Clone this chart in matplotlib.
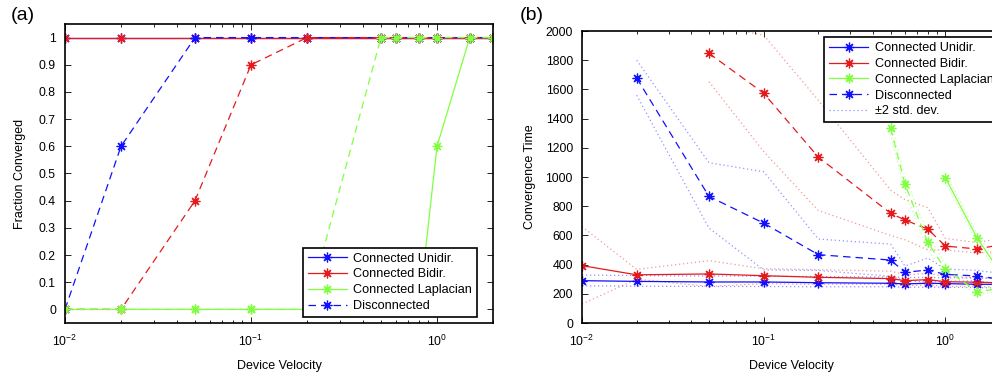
import numpy as np
import matplotlib
matplotlib.use("Agg")
import matplotlib.pyplot as plt
from matplotlib.lines import Line2D

plt.rcParams["font.family"] = ["Liberation Sans", "DejaVu Sans"]
plt.rcParams["mathtext.fontset"] = "custom"
plt.rcParams["mathtext.rm"] = "Liberation Sans"

NAN = np.nan
velocity = [0.01, 0.02, 0.05, 0.1, 0.2, 0.5, 0.6, 0.8, 1.0, 1.5, 2.0]

# (a) fraction converged
frac_conn_uni = [1, 1, 1, 1, 1, 1, 1, 1, 1, 1, 1]
frac_conn_bi = [1, 1, 1, 1, 1, 1, 1, 1, 1, 1, 1]
frac_conn_lap = [0, 0, 0, 0, 0, 0, 0, 0, 0.6, 1, 1]
frac_disc_uni = [0, 0.6, 1, 1, 1, 1, 1, 1, 1, 1, 1]
frac_disc_bi = [0, 0, 0.4, 0.9, 1, 1, 1, 1, 1, 1, 1]
frac_disc_lap = [0, 0, 0, 0, 0, 1, 1, 1, 1, 1, 1]

# (b) convergence time: mean, upper (+2sd), lower (-2sd)
time_conn_uni = [290, 285, 281, 281, 276, 272, 268, 272, 270, 265, 265]
time_conn_uni_hi = [328, 325, 322, 320, 318, 315, 312, 312, 310, 308, 305]
time_conn_uni_lo = [255, 252, 250, 250, 248, 248, 245, 245, 245, 242, 240]

time_conn_bi = [393, 330, 336, 324, 313, 304, 290, 297, 283, 279, 276]
time_conn_bi_hi = [660, 367, 427, 372, 365, 355, 330, 340, 320, 310, 305]
time_conn_bi_lo = [130, 300, 250, 270, 265, 265, 255, 260, 250, 250, 245]

time_conn_lap = [NAN, NAN, NAN, NAN, NAN, NAN, NAN, NAN, 995, 580, 350]
time_conn_lap_hi = [NAN, NAN, NAN, NAN, NAN, NAN, NAN, NAN, 1025, 610, 380]
time_conn_lap_lo = [NAN, NAN, NAN, NAN, NAN, NAN, NAN, NAN, 965, 550, 320]

time_disc_uni = [NAN, 1678, 867, 684, 468, 431, 347, 363, 333, 322, 300]
time_disc_uni_hi = [NAN, 1800, 1098, 1036, 575, 540, 390, 445, 370, 360, 340]
time_disc_uni_lo = [NAN, 1560, 650, 364, 360, 320, 290, 280, 285, 290, 265]

time_disc_bi = [NAN, NAN, 1847, 1574, 1136, 751, 705, 644, 527, 507, 535]
time_disc_bi_hi = [NAN, NAN, 2045, 1972, 1525, 910, 845, 790, 580, 550, 580]
time_disc_bi_lo = [NAN, NAN, 1653, 1175, 770, 600, 570, 500, 500, 480, 490]

time_disc_lap = [NAN, NAN, NAN, NAN, NAN, 1334, 950, 553, 368, 215, 235]
time_disc_lap_hi = [NAN, NAN, NAN, NAN, NAN, 1375, 1000, 610, 405, 240, 260]
time_disc_lap_lo = [NAN, NAN, NAN, NAN, NAN, 1295, 900, 500, 330, 195, 215]

BLUE = "#1010ff"
RED = "#e41a1c"
GREEN = "#80ff40"
STAR = (8, 2, 0)
DASH = (0, (6, 4))
DOT = (0, (1, 2.2))
FS = 8.8
LEG_FS = 9.1


def style_axes(ax):
    ax.set_xscale("log")
    ax.set_xlim(0.01, 2)
    ax.tick_params(which="both", direction="in", top=True, right=True,
                   labelsize=FS, width=0.6)
    ax.tick_params(which="major", length=4)
    ax.tick_params(which="minor", length=2.2)
    ax.tick_params(axis="x", which="both", pad=8)
    ax.tick_params(axis="y", which="both", pad=6.5)
    ax.set_xticks([0.01, 0.1, 1])
    ax.set_xticklabels([r"$10^{-2}$", r"$10^{-1}$", r"$10^{0}$"])
    for s in ax.spines.values():
        s.set_linewidth(1.2)
    ax.set_xlabel("Device Velocity", fontsize=9, labelpad=8)


def mline(ax, y, color, ls, lw=0.9, alpha=1.0, label=None):
    ax.plot(velocity, y, color=color, linestyle=ls, lw=lw, alpha=alpha,
            marker=STAR, ms=7, mew=0.9, label=label)


fig = plt.figure(figsize=(9.92, 3.76), dpi=100)

# ---- (a)
ax1 = fig.add_axes([65 / 992, 53 / 376, 428 / 992, 299 / 376])
mline(ax1, frac_conn_uni, BLUE, "-", label="Connected Unidir.")
mline(ax1, frac_conn_bi, RED, "-", label="Connected Bidir.")
mline(ax1, frac_conn_lap, GREEN, "-", label="Connected Laplacian")
mline(ax1, frac_disc_uni, BLUE, DASH, label="Disconnected")
mline(ax1, frac_disc_bi, RED, DASH)
mline(ax1, frac_disc_lap, GREEN, DASH)
style_axes(ax1)
ax1.set_ylim(-0.05, 1.05)
ax1.set_yticks(np.arange(0, 1.01, 0.1))
ax1.set_yticklabels(["0"] + [f"{v:.1f}" for v in np.arange(0.1, 0.95, 0.1)] + ["1"])
ax1.set_ylabel("Fraction Converged", fontsize=9, labelpad=9)
h, l = ax1.get_legend_handles_labels()
leg1 = ax1.legend(h[:4], l[:4], loc="lower right", bbox_to_anchor=(0.963, 0.02),
                  borderaxespad=0, fontsize=LEG_FS, fancybox=False, framealpha=1,
                  edgecolor="black", handlelength=3.1, handletextpad=0.5,
                  labelspacing=0.3, borderpad=0.4, numpoints=1)
leg1.get_frame().set_linewidth(1.2)
fig.text(11 / 992, 1 - 16 / 376, "(a)", fontsize=14, va="center", ha="left")

# ---- (b)
ax2 = fig.add_axes([582 / 992, 53 / 376, 418 / 992, 292 / 376])
bands = [(time_conn_uni_hi, time_conn_uni_lo, BLUE),
         (time_conn_bi_hi, time_conn_bi_lo, RED),
         (time_conn_lap_hi, time_conn_lap_lo, GREEN),
         (time_disc_uni_hi, time_disc_uni_lo, BLUE),
         (time_disc_bi_hi, time_disc_bi_lo, RED),
         (time_disc_lap_hi, time_disc_lap_lo, GREEN)]
for hi, lo, c in bands:
    ax2.plot(velocity, hi, color=c, linestyle=DOT, lw=0.9, alpha=0.45)
    ax2.plot(velocity, lo, color=c, linestyle=DOT, lw=0.9, alpha=0.45)
mline(ax2, time_conn_uni, BLUE, "-")
mline(ax2, time_conn_bi, RED, "-")
mline(ax2, time_conn_lap, GREEN, "-")
mline(ax2, time_disc_uni, BLUE, DASH)
mline(ax2, time_disc_bi, RED, DASH)
mline(ax2, time_disc_lap, GREEN, DASH)
style_axes(ax2)
ax2.set_ylim(0, 2000)
ax2.set_yticks(np.arange(0, 2001, 200))
ax2.set_ylabel("Convergence Time", fontsize=9, labelpad=7)
handles2 = [
    Line2D([], [], color=BLUE, lw=0.9, marker=STAR, ms=7, mew=0.9),
    Line2D([], [], color=RED, lw=0.9, marker=STAR, ms=7, mew=0.9),
    Line2D([], [], color=GREEN, lw=0.9, marker=STAR, ms=7, mew=0.9),
    Line2D([], [], color=BLUE, lw=0.9, ls=DASH, marker=STAR, ms=7, mew=0.9),
    Line2D([], [], color=BLUE, lw=0.9, ls=DOT, alpha=0.45),
]
labels2 = ["Connected Unidir.", "Connected Bidir.", "Connected Laplacian",
           "Disconnected", "\u00b12 std. dev."]
leg2 = ax2.legend(handles2, labels2, loc="upper left", bbox_to_anchor=(0.579, 0.979),
                  borderaxespad=0, fontsize=LEG_FS, fancybox=False, framealpha=1,
                  edgecolor="black", handlelength=3.1, handletextpad=0.5,
                  labelspacing=0.3, borderpad=0.4, numpoints=1)
leg2.get_frame().set_linewidth(1.2)
fig.text(520 / 992, 1 - 16 / 376, "(b)", fontsize=14, va="center", ha="left")

fig.savefig("out.png", dpi=100)
